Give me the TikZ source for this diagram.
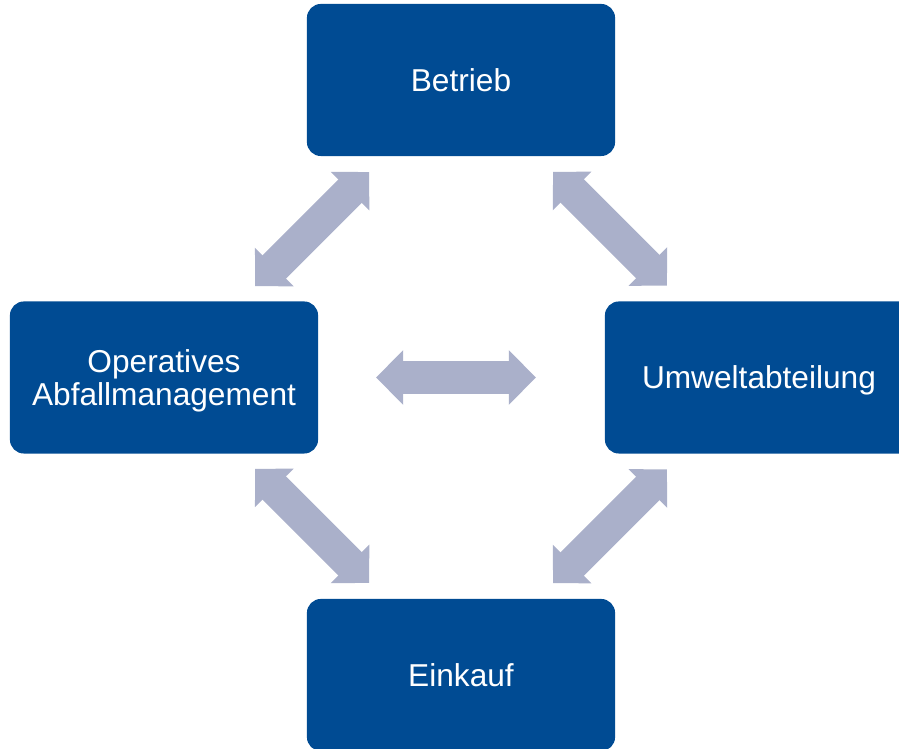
\documentclass[tikz,border=0pt]{standalone}
\usepackage{fontspec}
\setmainfont{Liberation Sans}
\usepackage{tikz}
\usetikzlibrary{arrows.meta}

\definecolor{boxblue}{RGB}{0,75,147}
\definecolor{linkgray}{RGB}{170,176,202}

\begin{document}
\begin{tikzpicture}[x=0.01cm,y=-0.01cm,
    >={Triangle[length=0.27cm,width=0.54cm,line width=0.8pt]},
    link/.style={<->,draw=linkgray,fill=linkgray,line width=0.33cm}]
      \tikzstyle{every node}=[fill=boxblue,rounded corners=0.14cm,minimum width=3.08cm,minimum height=1.52cm,inner sep=0pt,text=white,text depth=0pt,align=center,font=\fontsize{9}{9.4}\selectfont]

      \useasboundingbox (0,0) rectangle (899,749);

      \node (betrieb) at (461,80) {Betrieb};
      \node (op) at (164,377.5) {Operatives\\Abfallmanagement};
      \node (umwelt) at (759,377.5) {Umweltabteilung};
      \node (einkauf) at (461,675) {Einkauf};

      % diagonal links sit on the lines between the box centres
      \draw[link,shorten <=1.29cm,shorten >=1.3cm] (op.center) -- (betrieb.center);
      \draw[link,shorten <=1.3cm,shorten >=1.3cm] (betrieb.center) -- (umwelt.center);
      \draw[link,shorten <=1.29cm,shorten >=1.3cm] (op.center) -- (einkauf.center);
      \draw[link,shorten <=1.3cm,shorten >=1.3cm] (umwelt.center) -- (einkauf.center);

      \draw[link,shorten <=2.12cm,shorten >=2.23cm] (op.center) -- (umwelt.center);

    \end{tikzpicture}
\end{document}
